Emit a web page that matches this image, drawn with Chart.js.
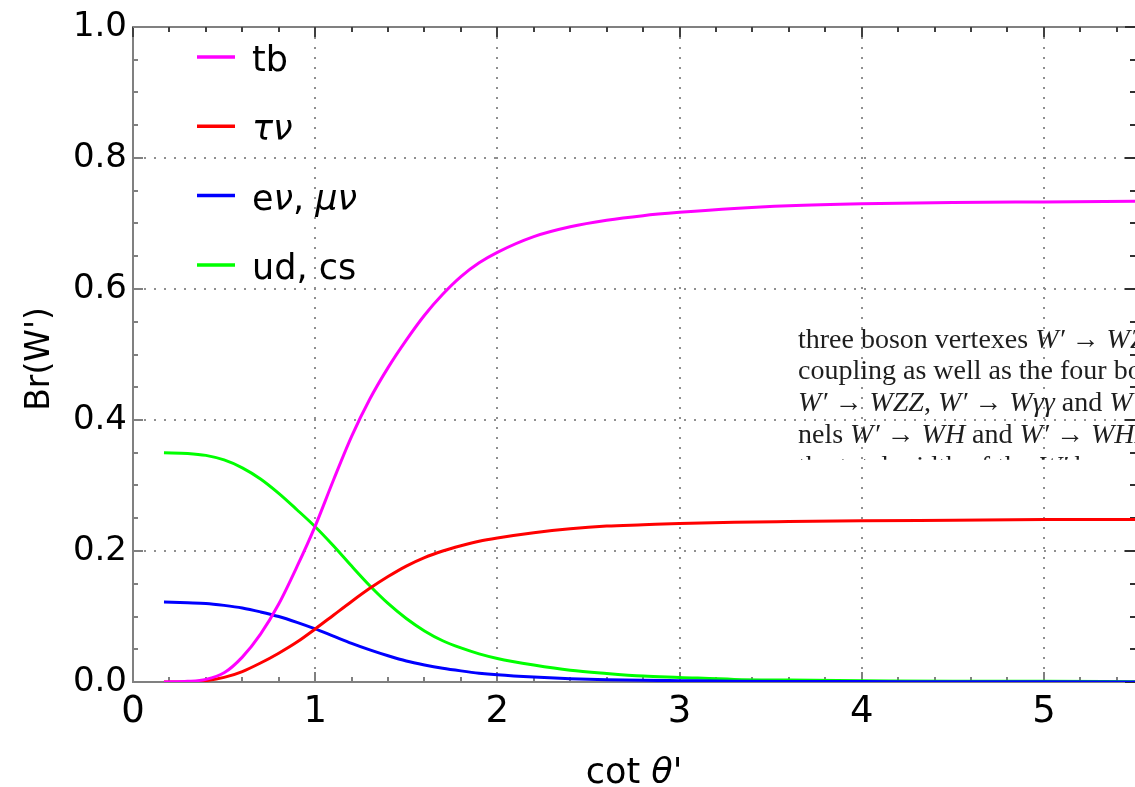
<!DOCTYPE html>
<html>
<head>
<meta charset="utf-8">
<title>Br(W')</title>
<script src="https://cdn.jsdelivr.net/npm/chart.js@4.4.0/dist/chart.umd.min.js"></script>
<style>
  html, body { margin: 0; padding: 0; background: #fff; }
  #wrap { position: relative; width: 1135px; height: 787px; }
</style>
</head>
<body>
<div id="wrap"><canvas id="brChart"></canvas></div>
<script>
// cot(theta') sample points and the branching ratios at each of them
const cotTheta = [0.17, 0.3, 0.4, 0.5, 0.6, 0.7, 0.8, 0.9, 1.0, 1.1, 1.2, 1.3, 1.4, 1.5, 1.6, 1.7, 1.8, 1.9, 2.0,
                  2.2, 2.4, 2.6, 2.8, 3.0, 3.3, 3.6, 4.0, 4.5, 5.0, 5.5];
const brTB    = [0.000, 0.001, 0.004, 0.014, 0.038, 0.073, 0.119, 0.176, 0.238, 0.308, 0.375, 0.432, 0.480, 0.522, 0.560, 0.592, 0.619, 0.640, 0.656,
                 0.680, 0.695, 0.705, 0.712, 0.717, 0.723, 0.727, 0.730, 0.732, 0.733, 0.734];
const brTauNu = [0.000, 0.000, 0.002, 0.007, 0.016, 0.029, 0.044, 0.061, 0.081, 0.102, 0.123, 0.143, 0.161, 0.177, 0.190, 0.200, 0.208, 0.215, 0.220,
                 0.228, 0.234, 0.238, 0.240, 0.242, 0.244, 0.245, 0.246, 0.247, 0.248, 0.248];
const brLepNu = [0.122, 0.121, 0.120, 0.117, 0.113, 0.107, 0.100, 0.091, 0.081, 0.070, 0.059, 0.049, 0.040, 0.032, 0.026, 0.021, 0.017, 0.0135, 0.011,
                 0.0075, 0.005, 0.0035, 0.0025, 0.002, 0.0013, 0.0009, 0.0006, 0.0003, 0.0002, 0.0001];
const brQuark = [0.350, 0.349, 0.346, 0.339, 0.327, 0.310, 0.288, 0.263, 0.237, 0.208, 0.177, 0.147, 0.120, 0.097, 0.078, 0.063, 0.052, 0.043, 0.036,
                 0.026, 0.018, 0.013, 0.009, 0.007, 0.004, 0.003, 0.002, 0.001, 0.001, 0.0005];

const xTickValues = [0, 1, 2, 3, 4, 5];
const yTickValues = [0, 0.2, 0.4, 0.6, 0.8, 1.0];

// legend labels as [text, italic] runs
const seriesLabels = [
  [['tb', false]],
  [['τν', true]],
  [['e', false], ['ν', true], [', ', false], ['μν', true]],
  [['ud, cs', false]]
];

const SANS = '"DejaVu Sans", Verdana, sans-serif';
const SERIF = '"Liberation Serif", "Times New Roman", serif';

function series(values) {
  return cotTheta.map((x, i) => ({ x: x, y: values[i] }));
}

// draws a list of [text, italic] runs starting at x, returns the width used
function drawRuns(ctx, runs, x, y, size, family) {
  let cx = x;
  runs.forEach(([t, it]) => {
    ctx.font = (it ? 'italic ' : '') + size + 'px ' + family;
    ctx.fillText(t, cx, y);
    cx += ctx.measureText(t).width;
  });
  return cx - x;
}

function runsWidth(ctx, runs, size, family) {
  let w = 0;
  runs.forEach(([t, it]) => {
    ctx.font = (it ? 'italic ' : '') + size + 'px ' + family;
    w += ctx.measureText(t).width;
  });
  return w;
}

// frame on top, inward major/minor ticks on all four sides
const frameTicks = {
  id: 'frameTicks',
  beforeDatasetsDraw(chart) {
    const { ctx, chartArea: a, scales: { x, y } } = chart;
    ctx.save();
    ctx.lineWidth = 2;
    ctx.strokeStyle = '#808080';
    ctx.beginPath();
    ctx.moveTo(a.left, a.top);
    ctx.lineTo(a.right, a.top);
    ctx.stroke();

    for (let i = 0; i * 0.2 <= x.max + 1e-9; i++) {
      const px = Math.round(x.getPixelForValue(i * 0.2));
      const len = i % 5 === 0 ? 10 : 5;
      ctx.strokeStyle = '#808080';
      ctx.beginPath(); ctx.moveTo(px, a.bottom); ctx.lineTo(px, a.bottom - len); ctx.stroke();
      ctx.strokeStyle = '#404040';
      ctx.beginPath(); ctx.moveTo(px, a.top); ctx.lineTo(px, a.top + len); ctx.stroke();
    }
    for (let i = 0; i <= 20; i++) {
      const py = Math.round(y.getPixelForValue(i * 0.05));
      const len = i % 4 === 0 ? 10 : 5;
      ctx.strokeStyle = '#808080';
      ctx.beginPath(); ctx.moveTo(a.left, py); ctx.lineTo(a.left + len, py); ctx.stroke();
      ctx.strokeStyle = '#303030';
      ctx.beginPath(); ctx.moveTo(a.right, py); ctx.lineTo(a.right - len, py); ctx.stroke();
    }
    ctx.restore();
  }
};

// legend in the upper left of the plot, with italic Greek letters
const runLegend = {
  id: 'runLegend',
  afterDatasetsDraw(chart) {
    const { ctx, chartArea: a } = chart;
    ctx.save();
    chart.data.datasets.forEach((ds, i) => {
      const ly = a.top + 30 + i * 69.3;
      ctx.strokeStyle = ds.borderColor;
      ctx.lineWidth = 3.5;
      ctx.beginPath();
      ctx.moveTo(a.left + 64, ly);
      ctx.lineTo(a.left + 102, ly);
      ctx.stroke();
      ctx.fillStyle = '#000';
      ctx.textBaseline = 'alphabetic';
      ctx.textAlign = 'left';
      drawRuns(ctx, seriesLabels[i], a.left + 119, ly + 14, 35, SANS);
    });
    ctx.restore();
  }
};

// axis titles
const axisTitles = {
  id: 'axisTitles',
  afterDraw(chart) {
    const { ctx, chartArea: a } = chart;
    ctx.save();
    ctx.fillStyle = '#000';
    ctx.textBaseline = 'alphabetic';
    ctx.textAlign = 'left';
    const xt = [['cot ', false], ['θ', true], ["'", false]];
    const w = runsWidth(ctx, xt, 35, SANS);
    drawRuns(ctx, xt, (a.left + a.right) / 2 - w / 2, 783, 35, SANS);

    ctx.translate(48.5, 359);
    ctx.rotate(-Math.PI / 2);
    ctx.textAlign = 'center';
    ctx.font = '33px ' + SANS;
    ctx.fillText("Br(W')", 0, 0);
    ctx.restore();
  }
};

// lines of page text lying over the right part of the plot
const pageLines = [
  [['three boson vertexes ', false], ['W′', true], [' → ', false], ['WZ', true], [', ', false], ['W′', true]],
  [['coupling as well as the four boson', false]],
  [['W′', true], [' → ', false], ['WZZ', true], [', ', false], ['W′', true], [' → ', false], ['Wγγ', true], [' and ', false], ['W′', true], [' → ', false], ['WWW', true]],
  [['nels ', false], ['W′', true], [' → ', false], ['WH', true], [' and ', false], ['W′', true], [' → ', false], ['WHH', true]],
  [['the total width of the ', false], ['W′', true], [' boson', false]]
];

const pageText = {
  id: 'pageText',
  afterDraw(chart) {
    const { ctx } = chart;
    ctx.save();
    ctx.fillStyle = '#1e1e1e';
    ctx.textBaseline = 'alphabetic';
    ctx.textAlign = 'left';
    pageLines.forEach((runs, i) => {
      const by = 347.5 + i * 31.8;
      if (i === pageLines.length - 1) {
        // only the tops of this line show
        ctx.save();
        ctx.beginPath();
        ctx.rect(790, by - 22, 345, 7);
        ctx.clip();
        drawRuns(ctx, runs, 798, by, 28, SERIF);
        ctx.restore();
      } else {
        drawRuns(ctx, runs, 798, by, 28, SERIF);
      }
    });
    ctx.restore();
  }
};

const dottedGrid = (hidden) => ({
  color: c => (c.tick && hidden.includes(c.tick.value)) ? 'rgba(0,0,0,0)' : '#8f8f8f',
  lineWidth: 2,
  drawTicks: false
});

const ctx = document.getElementById('brChart').getContext('2d');
new Chart(ctx, {
  type: 'line',
  data: {
    datasets: [
      { label: 'tb', data: series(brTB), borderColor: '#ff00ff' },
      { label: 'τν', data: series(brTauNu), borderColor: '#ff0000' },
      { label: 'eν, μν', data: series(brLepNu), borderColor: '#0000ff' },
      { label: 'ud, cs', data: series(brQuark), borderColor: '#00ff00' }
    ]
  },
  options: {
    responsive: true,
    maintainAspectRatio: false,
    animation: false,
    layout: { padding: { top: 27, right: 0, bottom: 0, left: 0 } },
    elements: {
      point: { radius: 0 },
      line: { borderWidth: 3, cubicInterpolationMode: 'monotone', fill: false }
    },
    plugins: { legend: { display: false }, tooltip: { enabled: false } },
    scales: {
      x: {
        type: 'linear',
        min: 0,
        max: 5.5,
        afterBuildTicks: s => { s.ticks = xTickValues.map(v => ({ value: v })); },
        afterFit: s => { s.height = 105; },
        ticks: { font: { family: SANS, size: 37 }, color: '#000', padding: 8, maxRotation: 0, callback: v => String(v) },
        grid: dottedGrid([0]),
        border: { color: '#808080', width: 2, dash: [2, 8] }
      },
      y: {
        min: 0,
        max: 1,
        afterBuildTicks: s => { s.ticks = yTickValues.map(v => ({ value: v })); },
        afterFit: s => { s.width = 133; },
        ticks: { font: { family: SANS, size: 34 }, color: '#000', padding: 6, callback: v => v.toFixed(1) },
        grid: dottedGrid([0, 1]),
        border: { color: '#808080', width: 2, dash: [2, 8] }
      }
    }
  },
  plugins: [frameTicks, runLegend, axisTitles, pageText]
});
</script>
</body>
</html>
